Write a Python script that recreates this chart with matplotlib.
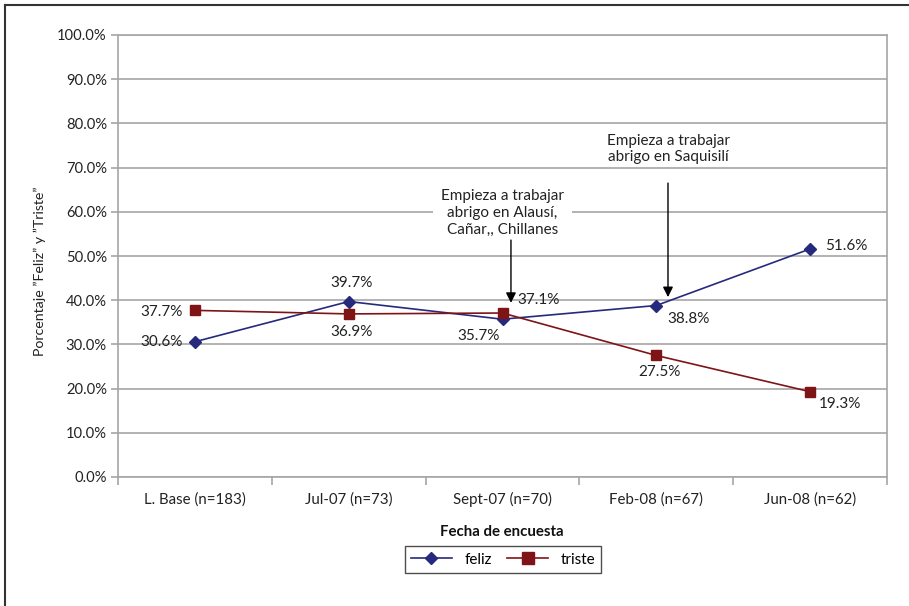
import matplotlib
matplotlib.use('Agg')

import matplotlib.pyplot as plt
from matplotlib.lines import Line2D
from matplotlib.ticker import FuncFormatter
import numpy as np

plt.rcParams['font.family'] = ['Lato', 'DejaVu Sans']

# Fechas de encuesta y porcentajes
fechas = ['L. Base (n=183)', 'Jul-07 (n=73)', 'Sept-07 (n=70)', 'Feb-08 (n=67)', 'Jun-08 (n=62)']
feliz = [30.6, 39.7, 35.7, 38.8, 51.6]
triste = [37.7, 36.9, 37.1, 27.5, 19.3]

color_feliz = '#262a7c'
color_triste = '#7f1417'
gris = '#a6a6a6'
texto = '#222222'

fig = plt.figure(figsize=(9.09, 6.06), dpi=100)
ax = fig.add_axes([118 / 909, 1 - 477 / 606, 769 / 909, 442 / 606])

x = np.arange(len(fechas))
ax.plot(x, feliz, color=color_feliz, lw=1.2, marker='D', ms=6.5, zorder=3)
ax.plot(x, triste, color=color_triste, lw=1.2, marker='s', ms=7, zorder=3)

ax.set_xlim(-0.5, len(fechas) - 0.5)
ax.set_ylim(0, 100)
ax.set_yticks(np.arange(0, 101, 10))
ax.yaxis.set_major_formatter(FuncFormatter(lambda v, p: f'{v:.1f}%'))
ax.grid(axis='y', color=gris, lw=1.2)
ax.set_axisbelow(True)

# etiquetas de categoria centradas, marcas entre categorias
ax.set_xticks(np.arange(-0.5, len(fechas), 1.0))
ax.set_xticklabels([])
ax.set_xticks(x, minor=True)
ax.set_xticklabels(fechas, minor=True)
ax.tick_params(axis='x', which='major', length=6, color=gris, width=1.2)
ax.tick_params(axis='x', which='minor', length=0, pad=11, labelsize=10.8, labelcolor=texto)
ax.tick_params(axis='y', length=5, color=gris, width=1.2, labelsize=10.6, labelcolor=texto, pad=3)
for s in ax.spines.values():
    s.set_color(gris)
    s.set_linewidth(1.2)

ax.set_ylabel('Porcentaje ”Feliz” y ”Triste”', fontsize=10.2, color=texto)
ax.yaxis.set_label_coords(-0.094, 0.466)
ax.set_xlabel('Fecha de encuesta', fontsize=10.8, fontweight='bold', color='#111111')
ax.xaxis.set_label_coords(0.4995, -0.108)

# etiquetas de datos (desplazamiento en puntos)
off_feliz = [(-9, 0, 'right', 'center'), (2, 8, 'center', 'bottom'), (-2, -7, 'right', 'top'),
             (8, -5, 'left', 'top'), (11, 2, 'left', 'center')]
off_triste = [(-9, -1, 'right', 'center'), (2, -8, 'center', 'top'), (11, 4, 'left', 'bottom'),
              (2, -7, 'center', 'top'), (6, -4, 'left', 'top')]
for serie, offs in ((feliz, off_feliz), (triste, off_triste)):
    for i, (v, (dx, dy, ha, va)) in enumerate(zip(serie, offs)):
        ax.annotate(f'{v:.1f}%', (i, v), xytext=(dx, dy), textcoords='offset points',
                    ha=ha, va=va, fontsize=11, color=texto, zorder=4)

# anotaciones de inicio de trabajo
flecha = dict(arrowstyle='-|>', color='black', lw=1, mutation_scale=15, shrinkA=0, shrinkB=0)
ax.text(2.0, 59.7, 'Empieza a trabajar\nabrigo en Alausí,\nCañar,, Chillanes',
        ha='center', va='center', fontsize=11, color=texto, linespacing=1.25,
        bbox=dict(boxstyle='square,pad=0.5', fc='white', ec='none'))
ax.annotate('', xy=(2.055, 39.4), xytext=(2.055, 53.6), arrowprops=flecha)
ax.text(3.08, 74.2, 'Empieza a trabajar\nabrigo en Saquisilí',
        ha='center', va='center', fontsize=11, color=texto, linespacing=1.25)
ax.annotate('', xy=(3.076, 40.7), xytext=(3.076, 66.5), arrowprops=flecha)

# leyenda
handles = [Line2D([], [], color=color_feliz, lw=1.2, marker='D', ms=6.5),
           Line2D([], [], color=color_triste, lw=1.2, marker='s', ms=9)]
leg = fig.legend(handles, ['feliz', 'triste'], ncol=2, loc='center',
                 bbox_to_anchor=(503 / 909, 1 - 559.5 / 606), fontsize=11,
                 frameon=True, fancybox=False, edgecolor=texto, handlelength=2.7,
                 columnspacing=1.0, borderpad=0.4, handletextpad=0.8)
leg.get_frame().set_linewidth(1)

# marco exterior (solo lado superior e izquierdo)
fig.add_artist(Line2D([5 / 909, 5 / 909], [0, 1 - 5 / 606], color='#333333', lw=1.5))
fig.add_artist(Line2D([5 / 909, 1], [1 - 5 / 606, 1 - 5 / 606], color='#333333', lw=1.5))

fig.savefig('out.png', dpi=100)
